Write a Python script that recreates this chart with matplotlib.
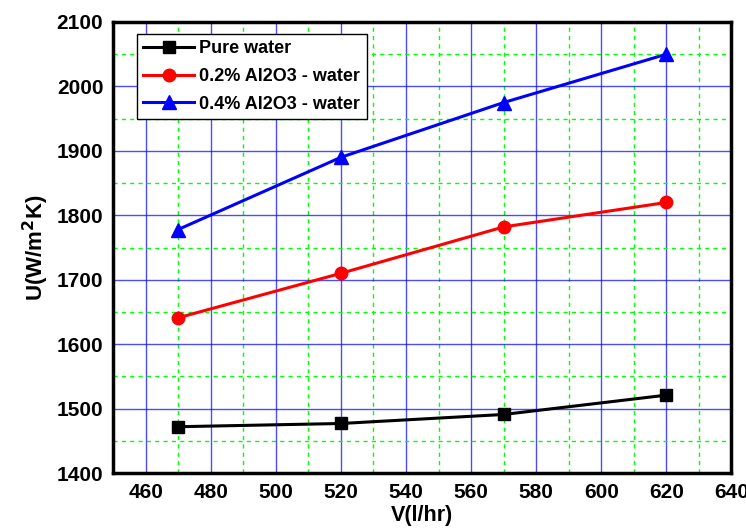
import matplotlib
matplotlib.use("Agg")
import matplotlib.pyplot as plt
from matplotlib.ticker import MultipleLocator

plt.rcParams['font.family'] = ['Liberation Sans', 'DejaVu Sans']
plt.rcParams['font.weight'] = 'bold'

# flow rate (l/hr)
flow = [470, 520, 570, 620]

# overall heat transfer coefficient U (W/m2K)
pure_water = [1472, 1477, 1491, 1521]
al2o3_02 = [1641, 1710, 1782, 1820]
al2o3_04 = [1778, 1890, 1975, 2050]

labels = ['Pure water', '0.2% Al2O3 - water', '0.4% Al2O3 - water']

fig = plt.figure(figsize=(7.46, 5.31), dpi=100)
ax = fig.add_axes([0.1515, 0.109, 0.829, 0.8496])

ax.plot(flow, pure_water, 'k-', marker='s', ms=9, lw=2.2, label=labels[0])
ax.plot(flow, al2o3_02, '-', color='#ff0000', marker='o', ms=9, lw=2.2, label=labels[1])
ax.plot(flow, al2o3_04, '-', color='#0000ff', marker='^', ms=10, lw=2.2, label=labels[2])

ax.set_xlim(450, 640)
ax.set_ylim(1400, 2100)
ax.xaxis.set_major_locator(MultipleLocator(20))
ax.xaxis.set_minor_locator(MultipleLocator(10))
ax.yaxis.set_major_locator(MultipleLocator(100))
ax.yaxis.set_minor_locator(MultipleLocator(50))

ax.grid(True, which='major', color='#0000ff', lw=1, alpha=0.7)
ax.grid(True, which='minor', color='#00ff00', lw=1, ls=(0, (3, 3)))
ax.set_axisbelow(True)
ax.tick_params(which='both', length=0, labelsize=15, pad=7)
for lab in ax.get_xticklabels() + ax.get_yticklabels():
    lab.set_fontweight('bold')
for sp in ax.spines.values():
    sp.set_linewidth(2.5)

ax.set_xlabel('V(l/hr)', fontsize=15.5, fontweight='bold', labelpad=2)
ax.set_ylabel('U(W/m$^\\mathbf{2}$K)', fontsize=16, fontweight='bold')

leg = ax.legend(loc='upper left', bbox_to_anchor=(0.039, 0.974), fontsize=13,
                fancybox=False, edgecolor='black', framealpha=1,
                handlelength=2.8, handletextpad=0.3, borderpad=0.35,
                labelspacing=0.6, borderaxespad=0)
leg.get_frame().set_linewidth(1)
for t in leg.get_texts():
    t.set_fontweight('bold')

fig.savefig('out.png', dpi=100)
